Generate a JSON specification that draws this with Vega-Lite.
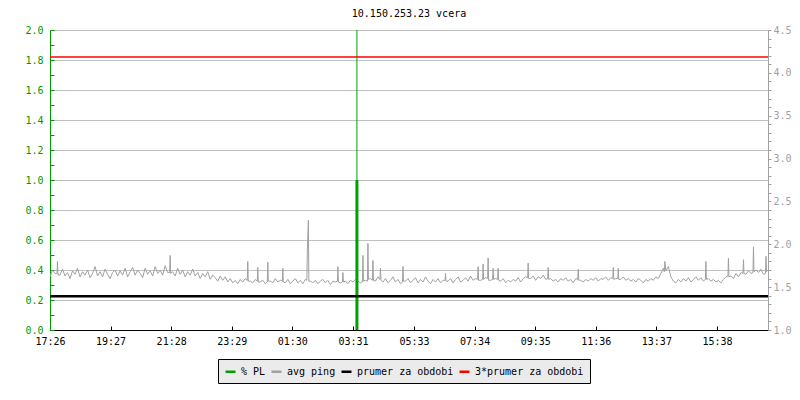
{
  "$schema": "https://vega.github.io/schema/vega-lite/v6.json",
  "autosize": {"type": "none"},
  "width": 718,
  "height": 300,
  "padding": {"left": 50, "top": 30, "right": 32, "bottom": 70},
  "background": "#ffffff",
  "title": {"text": "10.150.253.23 vcera", "font": "DejaVu Sans Mono", "fontSize": 10, "fontWeight": "normal", "color": "#000000", "anchor": "middle", "offset": 6},
  "config": {
    "view": {"stroke": null},
    "axis": {"labelFont": "DejaVu Sans Mono", "labelFontSize": 10, "title": null},
    "legend": {"labelFont": "DejaVu Sans Mono", "labelFontSize": 10}
  },
  "datasets": {
    "ping": [
      {"m":0,"p":1.62},{"m":5,"p":1.70},{"m":10,"p":1.66},{"m":14,"p":1.66},{"m":15,"p":1.80},{"m":16,"p":1.64},{"m":20,"p":1.64},{"m":25,"p":1.71},{"m":30,"p":1.63},{"m":35,"p":1.67},{"m":40,"p":1.60},{"m":45,"p":1.69},
      {"m":50,"p":1.65},{"m":55,"p":1.72},{"m":60,"p":1.62},{"m":65,"p":1.68},{"m":70,"p":1.64},{"m":75,"p":1.70},{"m":80,"p":1.61},{"m":85,"p":1.66},{"m":90,"p":1.74},{"m":95,"p":1.63},
      {"m":100,"p":1.68},{"m":105,"p":1.62},{"m":110,"p":1.71},{"m":115,"p":1.65},{"m":120,"p":1.60},{"m":125,"p":1.67},{"m":130,"p":1.70},{"m":135,"p":1.63},{"m":140,"p":1.69},{"m":145,"p":1.64},
      {"m":150,"p":1.72},{"m":155,"p":1.62},{"m":160,"p":1.68},{"m":165,"p":1.73},{"m":170,"p":1.64},{"m":175,"p":1.70},{"m":180,"p":1.66},{"m":185,"p":1.61},{"m":190,"p":1.72},{"m":195,"p":1.65},
      {"m":200,"p":1.69},{"m":205,"p":1.63},{"m":210,"p":1.74},{"m":215,"p":1.66},{"m":220,"p":1.70},{"m":225,"p":1.64},{"m":230,"p":1.75},{"m":235,"p":1.67},{"m":239,"p":1.67},{"m":240,"p":1.87},{"m":241,"p":1.66},{"m":245,"p":1.68},
      {"m":250,"p":1.63},{"m":255,"p":1.72},{"m":260,"p":1.65},{"m":265,"p":1.70},{"m":270,"p":1.62},{"m":275,"p":1.68},{"m":280,"p":1.64},{"m":285,"p":1.71},{"m":290,"p":1.63},{"m":295,"p":1.67},
      {"m":300,"p":1.60},{"m":305,"p":1.66},{"m":310,"p":1.62},{"m":315,"p":1.68},{"m":320,"p":1.59},{"m":325,"p":1.64},{"m":330,"p":1.61},{"m":335,"p":1.57},{"m":340,"p":1.63},{"m":345,"p":1.58},
      {"m":350,"p":1.62},{"m":355,"p":1.56},{"m":360,"p":1.60},{"m":365,"p":1.55},{"m":370,"p":1.58},{"m":375,"p":1.54},{"m":380,"p":1.59},{"m":385,"p":1.56},{"m":390,"p":1.60},{"m":394,"p":1.58},{"m":395,"p":1.80},{"m":396,"p":1.57},
      {"m":400,"p":1.57},{"m":405,"p":1.55},{"m":410,"p":1.59},{"m":414,"p":1.57},{"m":415,"p":1.73},{"m":416,"p":1.56},{"m":420,"p":1.56},{"m":425,"p":1.58},{"m":430,"p":1.54},{"m":434,"p":1.56},{"m":435,"p":1.79},{"m":436,"p":1.57},{"m":440,"p":1.57},{"m":445,"p":1.55},
      {"m":450,"p":1.60},{"m":455,"p":1.56},{"m":460,"p":1.58},{"m":464,"p":1.57},{"m":465,"p":1.72},{"m":466,"p":1.56},{"m":470,"p":1.55},{"m":475,"p":1.59},{"m":480,"p":1.54},{"m":485,"p":1.57},{"m":490,"p":1.60},{"m":495,"p":1.55},
      {"m":500,"p":1.58},{"m":505,"p":1.54},{"m":510,"p":1.59},{"m":513,"p":1.58},{"m":514,"p":1.93},{"m":516,"p":2.28},{"m":517,"p":1.57},{"m":520,"p":1.57},{"m":525,"p":1.55},{"m":530,"p":1.58},{"m":535,"p":1.54},{"m":540,"p":1.57},
      {"m":545,"p":1.59},{"m":550,"p":1.55},{"m":555,"p":1.58},{"m":560,"p":1.53},{"m":565,"p":1.57},{"m":570,"p":1.56},{"m":574,"p":1.57},{"m":575,"p":1.74},{"m":576,"p":1.56},{"m":580,"p":1.55},{"m":584,"p":1.56},{"m":585,"p":1.67},{"m":586,"p":1.56},{"m":590,"p":1.57},
      {"m":595,"p":1.54},{"m":600,"p":1.58},{"m":605,"p":1.56},{"m":610,"p":1.59},{"m":615,"p":1.57},{"m":620,"p":1.55},{"m":624,"p":1.56},{"m":625,"p":1.87},{"m":626,"p":1.57},{"m":630,"p":1.58},{"m":634,"p":1.57},{"m":635,"p":2.01},{"m":636,"p":1.59},{"m":640,"p":1.60},
      {"m":644,"p":1.58},{"m":645,"p":1.81},{"m":646,"p":1.58},{"m":650,"p":1.57},{"m":655,"p":1.62},{"m":659,"p":1.59},{"m":660,"p":1.72},{"m":661,"p":1.58},{"m":665,"p":1.56},{"m":670,"p":1.60},{"m":675,"p":1.55},{"m":680,"p":1.58},{"m":685,"p":1.62},{"m":690,"p":1.56},
      {"m":695,"p":1.59},{"m":700,"p":1.54},{"m":704,"p":1.56},{"m":705,"p":1.74},{"m":706,"p":1.57},{"m":710,"p":1.57},{"m":715,"p":1.60},{"m":720,"p":1.55},{"m":725,"p":1.58},{"m":730,"p":1.61},{"m":735,"p":1.55},{"m":740,"p":1.59},
      {"m":745,"p":1.56},{"m":750,"p":1.62},{"m":755,"p":1.57},{"m":760,"p":1.54},{"m":765,"p":1.59},{"m":770,"p":1.56},{"m":775,"p":1.60},{"m":780,"p":1.55},{"m":785,"p":1.58},{"m":789,"p":1.58},{"m":790,"p":1.66},{"m":791,"p":1.57},
      {"m":795,"p":1.57},{"m":800,"p":1.60},{"m":805,"p":1.55},{"m":810,"p":1.59},{"m":815,"p":1.62},{"m":820,"p":1.56},{"m":825,"p":1.58},{"m":830,"p":1.61},{"m":835,"p":1.57},{"m":840,"p":1.63},
      {"m":845,"p":1.58},{"m":850,"p":1.60},{"m":854,"p":1.59},{"m":855,"p":1.74},{"m":856,"p":1.58},{"m":860,"p":1.58},{"m":864,"p":1.59},{"m":865,"p":1.77},{"m":866,"p":1.59},{"m":870,"p":1.61},{"m":874,"p":1.60},{"m":875,"p":1.84},{"m":876,"p":1.58},{"m":880,"p":1.58},{"m":884,"p":1.59},{"m":885,"p":1.72},{"m":886,"p":1.59},{"m":890,"p":1.60},
      {"m":894,"p":1.59},{"m":895,"p":1.72},{"m":896,"p":1.58},{"m":900,"p":1.57},{"m":905,"p":1.60},{"m":910,"p":1.55},{"m":915,"p":1.58},{"m":920,"p":1.56},{"m":925,"p":1.59},{"m":930,"p":1.57},{"m":935,"p":1.61},{"m":940,"p":1.56},
      {"m":945,"p":1.60},{"m":950,"p":1.62},{"m":954,"p":1.61},{"m":955,"p":1.78},{"m":956,"p":1.60},{"m":960,"p":1.60},{"m":965,"p":1.63},{"m":970,"p":1.58},{"m":975,"p":1.62},{"m":980,"p":1.60},{"m":985,"p":1.64},{"m":990,"p":1.59},
      {"m":994,"p":1.60},{"m":995,"p":1.73},{"m":996,"p":1.59},{"m":1000,"p":1.60},{"m":1005,"p":1.57},{"m":1010,"p":1.59},{"m":1015,"p":1.56},{"m":1020,"p":1.60},{"m":1025,"p":1.58},{"m":1030,"p":1.61},{"m":1035,"p":1.57},{"m":1040,"p":1.59},
      {"m":1045,"p":1.55},{"m":1050,"p":1.60},{"m":1054,"p":1.59},{"m":1055,"p":1.71},{"m":1056,"p":1.58},{"m":1060,"p":1.58},{"m":1065,"p":1.56},{"m":1070,"p":1.59},{"m":1075,"p":1.57},{"m":1080,"p":1.60},{"m":1085,"p":1.58},{"m":1090,"p":1.61},
      {"m":1095,"p":1.57},{"m":1100,"p":1.60},{"m":1105,"p":1.59},{"m":1110,"p":1.62},{"m":1115,"p":1.58},{"m":1120,"p":1.61},{"m":1124,"p":1.60},{"m":1125,"p":1.73},{"m":1126,"p":1.59},{"m":1130,"p":1.60},{"m":1134,"p":1.60},{"m":1135,"p":1.72},{"m":1136,"p":1.59},{"m":1140,"p":1.59},
      {"m":1145,"p":1.62},{"m":1150,"p":1.58},{"m":1155,"p":1.60},{"m":1160,"p":1.57},{"m":1165,"p":1.59},{"m":1170,"p":1.56},{"m":1175,"p":1.60},{"m":1180,"p":1.58},{"m":1185,"p":1.55},{"m":1190,"p":1.59},
      {"m":1195,"p":1.57},{"m":1200,"p":1.60},{"m":1205,"p":1.58},{"m":1210,"p":1.62},{"m":1215,"p":1.60},{"m":1220,"p":1.66},{"m":1225,"p":1.72},{"m":1227,"p":1.68},{"m":1228,"p":1.80},{"m":1230,"p":1.69},{"m":1235,"p":1.74},
      {"m":1240,"p":1.62},{"m":1245,"p":1.57},{"m":1250,"p":1.55},{"m":1255,"p":1.59},{"m":1260,"p":1.56},{"m":1265,"p":1.60},{"m":1270,"p":1.57},{"m":1275,"p":1.61},{"m":1280,"p":1.56},{"m":1285,"p":1.59},
      {"m":1290,"p":1.62},{"m":1295,"p":1.58},{"m":1300,"p":1.61},{"m":1305,"p":1.57},{"m":1309,"p":1.59},{"m":1310,"p":1.80},{"m":1311,"p":1.59},{"m":1315,"p":1.60},{"m":1320,"p":1.57},{"m":1325,"p":1.59},{"m":1330,"p":1.56},{"m":1335,"p":1.58},
      {"m":1340,"p":1.55},{"m":1345,"p":1.59},{"m":1350,"p":1.62},{"m":1354,"p":1.63},{"m":1355,"p":1.84},{"m":1356,"p":1.62},{"m":1360,"p":1.63},{"m":1365,"p":1.60},{"m":1370,"p":1.66},{"m":1375,"p":1.62},{"m":1380,"p":1.67},{"m":1384,"p":1.66},{"m":1385,"p":1.82},{"m":1386,"p":1.66},
      {"m":1390,"p":1.65},{"m":1395,"p":1.69},{"m":1400,"p":1.66},{"m":1404,"p":1.67},{"m":1405,"p":1.97},{"m":1406,"p":1.68},{"m":1410,"p":1.70},{"m":1415,"p":1.67},{"m":1420,"p":1.71},{"m":1425,"p":1.65},{"m":1429,"p":1.66},{"m":1430,"p":1.86},{"m":1431,"p":1.68},{"m":1434,"p":1.70}
    ],
    "pl": [{"m": 613, "pl": 1.0, "plmax": 2.0}],
    "mean": [{"s": "prumer za obdobi", "p": 1.395}, {"s": "3*prumer za obdobi", "p": 4.185}]
  },
  "layer": [
    {
      "data": {"name": "ping"},
      "mark": {"type": "line", "strokeWidth": 1, "clip": true},
      "encoding": {
        "x": {
          "field": "m", "type": "quantitative",
          "scale": {"domain": [0, 1434], "nice": false, "zero": false},
          "axis": {
            "orient": "bottom",
            "values": [0, 121, 242, 363, 484, 605, 727, 848, 969, 1090, 1211, 1332],
            "labelExpr": "timeFormat(datetime(2024, 0, 1, 17, 26 + datum.value, 0), '%H:%M')",
            "grid": false, "domainColor": "#000000", "tickColor": "#000000", "tickSize": -4,
            "labelColor": "#000000", "labelPadding": 10, "labelFlush": false, "labelOverlap": false
          }
        },
        "y": {
          "field": "p", "type": "quantitative",
          "scale": {"domain": [1, 4.5], "nice": false, "zero": false},
          "axis": {
            "orient": "right",
            "values": [1.0,1.1,1.2,1.3,1.4,1.5,1.6,1.7,1.8,1.9,2.0,2.1,2.2,2.3,2.4,2.5,2.6,2.7,2.8,2.9,3.0,3.1,3.2,3.3,3.4,3.5,3.6,3.7,3.8,3.9,4.0,4.1,4.2,4.3,4.4,4.5],
            "labelExpr": "round(datum.value * 10) % 5 == 0 ? format(datum.value, '.1f') : ''",
            "grid": false, "domainColor": "#a0a0a0", "tickColor": "#a0a0a0", "tickSize": 3,
            "labelColor": "#a0a0a0", "labelPadding": 2, "labelFlush": false, "labelOverlap": false
          }
        },
        "color": {
          "datum": "avg ping", "type": "nominal", "title": null,
          "scale": {"domain": ["% PL", "avg ping", "prumer za obdobi", "3*prumer za obdobi"], "range": ["#00a000", "#a0a0a0", "#000000", "#ff0000"]},
          "legend": {
            "title": null, "orient": "none", "legendX": 168, "legendY": 329, "direction": "horizontal",
            "symbolType": "stroke", "symbolStrokeWidth": 2.5, "symbolSize": 100, "labelOffset": 4, "columnPadding": 0,
            "padding": 6, "fillColor": "#ebebeb", "strokeColor": "#000000", "labelColor": "#000000"
          }
        }
      }
    },
    {
      "data": {"name": "pl"},
      "layer": [
        {
          "mark": {"type": "rule", "strokeWidth": 1, "clip": true},
          "encoding": {
            "x": {"field": "m", "type": "quantitative"},
            "y": {"field": "plmax", "type": "quantitative"},
            "y2": {"datum": 0},
            "color": {"datum": "% PL", "type": "nominal", "title": null}
          }
        },
        {
          "mark": {"type": "rule", "strokeWidth": 3, "clip": true},
          "encoding": {
            "x": {"field": "m", "type": "quantitative"},
            "y": {"field": "pl", "type": "quantitative"},
            "y2": {"datum": 0},
            "color": {"datum": "% PL", "type": "nominal", "title": null}
          }
        }
      ],
      "encoding": {
        "y": {
          "field": "pl", "type": "quantitative",
          "scale": {"domain": [0, 2], "nice": false},
          "axis": {
            "orient": "left",
            "values": [0,0.1,0.2,0.3,0.4,0.5,0.6,0.7,0.8,0.9,1.0,1.1,1.2,1.3,1.4,1.5,1.6,1.7,1.8,1.9,2.0],
            "labelExpr": "round(datum.value * 10) % 2 == 0 ? format(datum.value, '.1f') : ''",
            "grid": true, "gridColor": "#c0c0c0",
            "gridOpacity": {"condition": {"test": "round(datum.value * 10) % 2 == 1", "value": 0}, "value": 1},
            "domainColor": "#009900", "tickColor": "#009900", "tickSize": -4,
            "labelColor": "#009900", "labelPadding": 11, "labelFlush": false, "labelOverlap": false
          }
        }
      }
    },
    {
      "data": {"name": "mean"},
      "layer": [
        {
          "transform": [{"filter": "datum.s == 'prumer za obdobi'"}],
          "mark": {"type": "rule", "strokeWidth": 2.5},
          "encoding": {
            "y": {"field": "p", "type": "quantitative", "scale": {"domain": [1, 4.5], "nice": false, "zero": false}, "axis": null},
            "color": {"field": "s", "type": "nominal", "title": null}
          }
        },
        {
          "transform": [{"filter": "datum.s == '3*prumer za obdobi'"}],
          "mark": {"type": "rule", "strokeWidth": 1.5},
          "encoding": {
            "y": {"field": "p", "type": "quantitative", "scale": {"domain": [1, 4.5], "nice": false, "zero": false}, "axis": null},
            "color": {"field": "s", "type": "nominal", "title": null}
          }
        }
      ]
    }
  ],
  "resolve": {"scale": {"y": "independent"}}
}
